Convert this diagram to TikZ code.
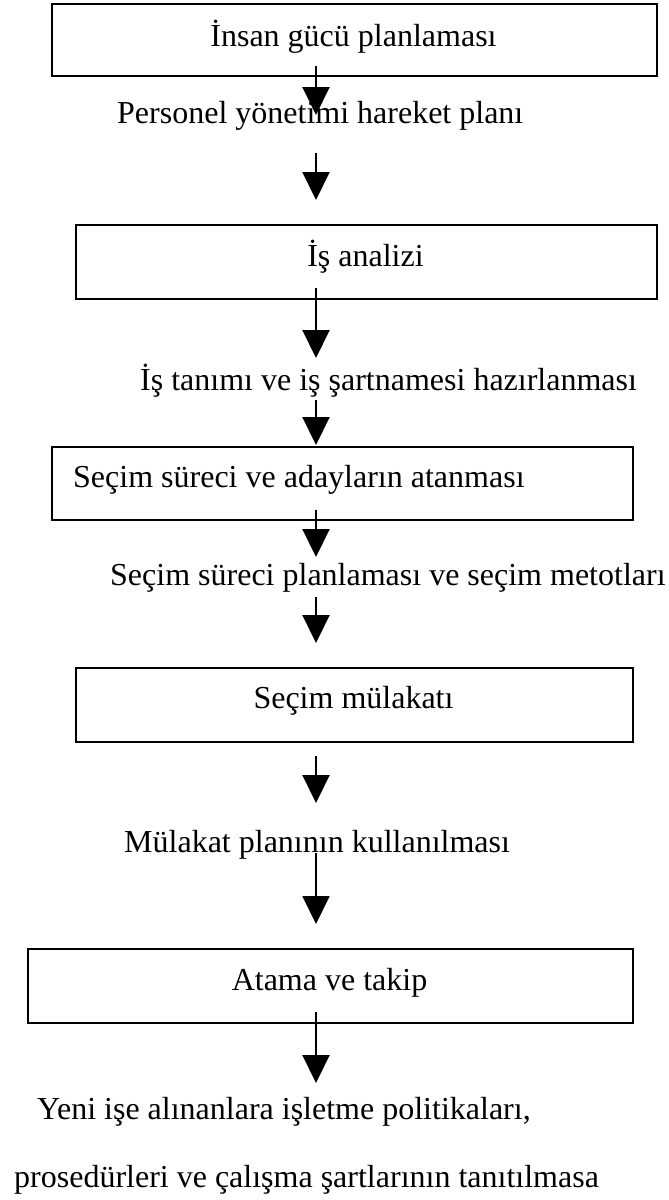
\documentclass[tikz,border=0pt]{standalone}
\usepackage{fontspec}
\setmainfont{Liberation Serif}
\usetikzlibrary{arrows.meta}
\begin{document}
\begin{tikzpicture}[x=1pt,y=-1pt,
  stagebox/.style={draw=black, line width=1.5pt, rectangle, inner sep=0pt, anchor=north west},
  lbl/.style={inner sep=0pt, font=\fontsize{32}{38}\selectfont},
  flow/.style={line width=2pt, -{Triangle[length=28pt,width=27pt]}}]
\useasboundingbox (0,0) rectangle (669,1200);
% boxes
\node[stagebox, minimum width=605pt, minimum height=72pt] (b1) at (51,3) {};
\node[stagebox, minimum width=581pt, minimum height=74pt] (b2) at (75,224) {};
\node[stagebox, minimum width=581pt, minimum height=73pt] (b3) at (51,446) {};
\node[stagebox, minimum width=557pt, minimum height=74pt] (b4) at (75,667) {};
\node[stagebox, minimum width=605pt, minimum height=74pt] (b5) at (27,948) {};
% texts
\node[lbl, anchor=base] (t1) at (353.5,46) {İnsan gücü planlaması};
\node[lbl, anchor=base west] (p1) at (117,123) {Personel yönetimi hareket planı};
\node[lbl, anchor=base] (t2) at (365.5,266) {İş analizi};
\node[lbl, anchor=base west] (p2) at (140,390) {İş tanımı ve iş şartnamesi hazırlanması};
\node[lbl, anchor=base west] (t3) at (73,487) {Seçim süreci ve adayların atanması};
\node[lbl, anchor=base west] (p3) at (110,585) {Seçim süreci planlaması ve seçim metotları};
\node[lbl, anchor=base] (t4) at (353.5,708) {Seçim mülakatı};
\node[lbl, anchor=base west] (p4) at (124,852) {Mülakat planının kullanılması};
\node[lbl, anchor=base] (t5) at (329.5,990) {Atama ve takip};
\node[lbl, anchor=base west] (p5) at (37,1119) {Yeni işe alınanlara işletme politikaları,};
\node[lbl, anchor=base west] (p6) at (14,1187) {prosedürleri ve çalışma şartlarının tanıtılmasa};
% arrow end points
\coordinate (a1s) at (316,66);   \coordinate (a1e) at (316,115);
\coordinate (a2s) at (316,153);  \coordinate (a2e) at (316,200);
\coordinate (a3s) at (316,288);  \coordinate (a3e) at (316,358);
\coordinate (a4s) at (316,400);  \coordinate (a4e) at (316,445);
\coordinate (a5s) at (316,510);  \coordinate (a5e) at (316,557);
\coordinate (a6s) at (316,597);  \coordinate (a6e) at (316,643);
\coordinate (a7s) at (316,756);  \coordinate (a7e) at (316,803);
\coordinate (a8s) at (316,853);  \coordinate (a8e) at (316,924);
\coordinate (a9s) at (316,1012); \coordinate (a9e) at (316,1083);
\foreach \i in {1,...,9} { \draw[flow] (a\i s) -- (a\i e); }
\end{tikzpicture}
\end{document}
